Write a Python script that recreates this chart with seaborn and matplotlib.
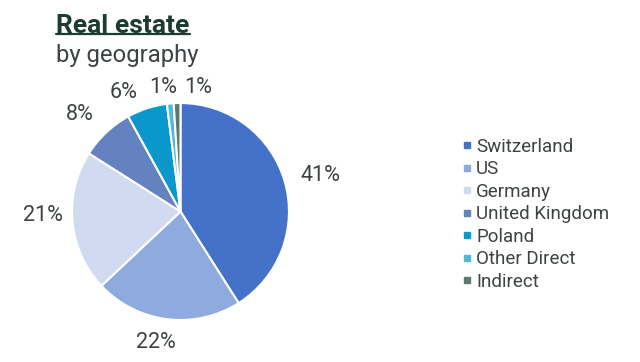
import matplotlib.pyplot as plt
import seaborn as sns
from matplotlib.lines import Line2D

sns.set_theme(style="white")
plt.rcParams['font.family'] = ['Roboto', 'DejaVu Sans']

regions = ["Switzerland", "US", "Germany", "United Kingdom", "Poland", "Other Direct", "Indirect"]
shares = [41, 22, 21, 8, 6, 1, 1]
colors = ["#4472c8", "#8eaadf", "#d0dbf1", "#6482c0", "#0a98cc", "#4fb7d7", "#5b7873"]
text_color = "#3d4244"

# label placement (pie radius units), spread like the original layout
label_xy = [(1.286, 0.336), (-0.226, -1.207), (-1.267, -0.037), (-0.931, 0.894),
            (-0.525, 1.097), (-0.157, 1.143), (0.166, 1.143)]

fig = plt.figure(figsize=(6.4, 3.62), dpi=100)
ax = fig.add_axes([0.1125, 0.116, 0.339, 0.5994])

wedges, texts, autotexts = ax.pie(
    shares, colors=colors, startangle=90, counterclock=False,
    autopct="%d%%", pctdistance=1.3,
    wedgeprops=dict(edgecolor="white", linewidth=1.5),
    textprops=dict(color=text_color, fontsize=15.5))
for t, xy in zip(autotexts, label_xy):
    t.set_position(xy)
    t.set_va("center")
    t.set_clip_on(False)
ax.set_xlim(-1, 1)
ax.set_ylim(-1, 1)
ax.set_aspect("equal")

# title
fig.text(0.0875, 0.927, "Real estate", fontsize=19, fontweight="bold",
         color="#1e3b2f", va="center", ha="left")
fig.add_artist(Line2D([0.0875, 0.297], [0.906, 0.906], color="#1e3b2f", linewidth=1.6))
fig.text(0.0875, 0.847, "by geography", fontsize=17.2,
         color=text_color, va="center", ha="left")

# legend
handles = [Line2D([], [], marker="s", linestyle="", markersize=4.2, color=c) for c in colors]
leg = fig.legend(handles, regions, loc="upper left", bbox_to_anchor=(0.7224, 0.619),
                 frameon=False, handlelength=0.5, handletextpad=0.23,
                 labelspacing=0.24, borderpad=0, borderaxespad=0,
                 prop=dict(size=13.5))
for t in leg.get_texts():
    t.set_color(text_color)

fig.savefig("out.png", dpi=100)
